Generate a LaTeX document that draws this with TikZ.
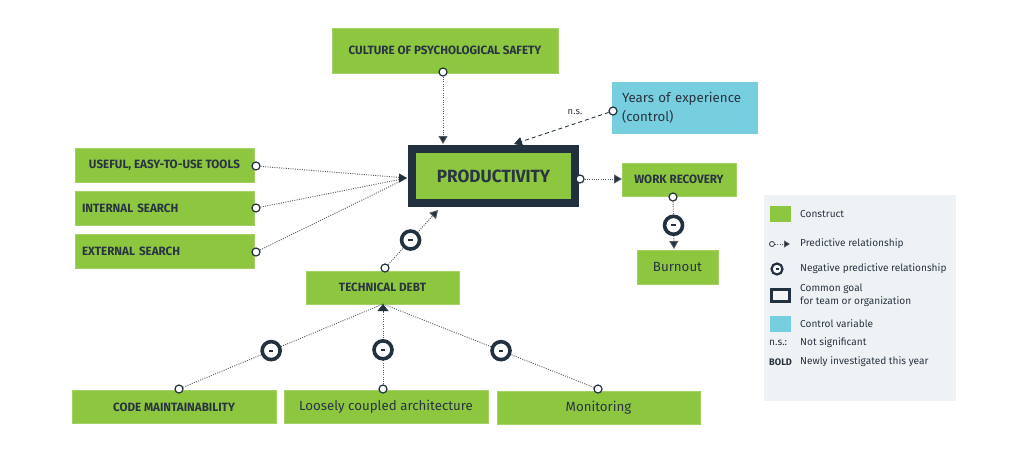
\documentclass[tikz,border=0pt]{standalone}
\usepackage{fontspec}
\setmainfont{Fira Sans}
\newfontfamily\condfont[FakeStretch=0.97]{Fira Sans}
\usetikzlibrary{arrows.meta}
\definecolor{cgreen}{HTML}{8DC63F}
\definecolor{cdark}{HTML}{22313F}
\definecolor{ccyan}{HTML}{76CEDE}
\definecolor{cpanel}{HTML}{EEF2F5}
\definecolor{ctext}{HTML}{2A3542}
\definecolor{cline}{HTML}{555A60}
\newcommand{\negbar}{\rule{4.5pt}{1.8pt}}
\tikzset{
  construct/.style={rectangle, fill=cgreen, draw=cgreen!80!white, line width=0.5pt, inner sep=0pt, text=ctext, align=center},
  capslabel/.style={font=\condfont\bfseries\fontsize{12}{14}\selectfont},
  plainlabel/.style={font=\fontsize{13.3}{19}\selectfont},
  opencirc/.style={circle, solid, draw=cdark, fill=white, line width=1.2pt, minimum size=8pt, inner sep=0pt},
  negcirc/.style={circle, solid, draw=cdark, fill=white, line width=3.6pt, minimum size=18pt, inner sep=0pt, text=cdark},
  dotline/.style={draw=cline, line width=0.9pt, dash pattern=on 1pt off 1.3pt},
  tip/.style={-{Triangle[length=8pt,width=9pt,fill=cdark]}},
  rel/.style={dotline, tip},
  legtext/.style={anchor=west, text=ctext, font=\fontsize{10.1}{12}\selectfont, inner sep=0pt, align=left},
}
\begin{document}
\begin{tikzpicture}[x=1pt,y=-1pt]
\useasboundingbox (0,0) rectangle (1016,475);
% boxes
\node[construct, capslabel, minimum width=226pt, minimum height=45pt] (culture) at (445,50.5) {CULTURE OF PSYCHOLOGICAL SAFETY};
\node[rectangle, fill=ccyan, inner sep=0pt, minimum width=146pt, minimum height=52pt, text width=126pt, align=left, text=ctext, plainlabel] (years) at (685,108) {Years of experience\\(control)};
\node[rectangle, fill=cgreen, draw=cdark, line width=8pt, minimum width=163pt, minimum height=54pt, inner sep=0pt, text=ctext, font=\condfont\bfseries\fontsize{17.7}{20}\selectfont] (prod) at (493.5,176) {PRODUCTIVITY};
\node[construct, capslabel, minimum width=179pt, minimum height=34pt] (tools) at (164.5,165) {USEFUL, EASY-TO-USE TOOLS};
\node[construct, capslabel, minimum width=179pt, minimum height=34pt, text width=165pt, align=left] (internal) at (164.5,208) {INTERNAL SEARCH};
\node[construct, capslabel, minimum width=179pt, minimum height=34pt, text width=165pt, align=left] (external) at (164.5,251.5) {EXTERNAL SEARCH};
\node[construct, capslabel, minimum width=114pt, minimum height=33pt] (work) at (679,179.5) {WORK RECOVERY};
\node[construct, plainlabel, minimum width=81pt, minimum height=34pt] (burnout) at (677.5,267) {Burnout};
\node[construct, capslabel, minimum width=153pt, minimum height=33pt] (debt) at (382.5,287.5) {TECHNICAL DEBT};
\node[construct, capslabel, minimum width=204pt, minimum height=33pt] (code) at (174,407) {CODE MAINTAINABILITY};
\node[construct, plainlabel, minimum width=204pt, minimum height=33pt] (loose) at (386,406.5) {Loosely coupled architecture};
\node[construct, plainlabel, minimum width=203pt, minimum height=33pt] (monitor) at (598.5,407.5) {Monitoring};
% arrow targets
\coordinate (pTop) at (443,144);
\coordinate (pTopR) at (514,144);
\coordinate (pLeft) at (407,178);
\coordinate (pLeftIn) at (400,178);
\coordinate (pRight) at (622,179);
\coordinate (pBot) at (438,210);
\coordinate (bTop) at (674,249);
\coordinate (dBot) at (383,304);
\coordinate (dBotIn) at (383,312);
% start circles
\node[opencirc] (cCul) at (443,72) {};
\node[opencirc] (cYrs) at (613,111) {};
\node[opencirc] (cTools) at (256,166) {};
\node[opencirc] (cInt) at (256,208) {};
\node[opencirc] (cExt) at (256,252) {};
\node[opencirc] (cProd) at (580,179) {};
\node[opencirc] (cWork) at (673,197) {};
\node[opencirc] (cDebt) at (385,268) {};
\node[opencirc] (cCode) at (179,389) {};
\node[opencirc] (cLoose) at (383,389) {};
\node[opencirc] (cMon) at (598,389) {};
% connectors
\draw[rel] (cCul) -- (pTop);
\draw[rel, dash pattern=on 4pt off 3pt, draw=cdark] (cYrs) -- (pTopR);
\node[text=ctext, font=\fontsize{9.5}{10}\selectfont, inner sep=0pt] (ns) at (575,112) {n.s.};
\draw[dotline] (cTools) -- (pLeft);
\draw[dotline] (cInt) -- (pLeft);
\draw[dotline] (cExt) -- (pLeft);
\draw[tip, draw=cdark, line width=0.9pt] (pLeftIn) -- (pLeft);
\draw[rel] (cProd) -- (pRight);
\draw[rel] (cWork) -- (bTop) node[negcirc, pos=0.5] (nWork) {\negbar};
\draw[rel] (cDebt) -- (pBot) node[negcirc, pos=0.45] (nDebt) {\negbar};
\draw[dotline] (cCode) -- (dBot) node[negcirc, pos=0.44] (nCode) {\negbar};
\draw[dotline] (cLoose) -- (dBot) node[negcirc, pos=0.43] (nLoose) {\negbar};
\draw[dotline] (cMon) -- (dBot) node[negcirc, pos=0.44] (nMon) {\negbar};
\draw[-{Triangle[length=7pt,width=11pt,fill=cdark]}, draw=cdark, line width=0.9pt] (dBotIn) -- (dBot);
% legend
\node[rectangle, fill=cpanel, inner sep=0pt, minimum width=192pt, minimum height=206pt] (panel) at (860,298) {};
\node[rectangle, fill=cgreen, inner sep=0pt, minimum width=21pt, minimum height=16pt] (lgGreen) at (780.5,214) {};
\node[legtext] (tConstruct) at (800,214) {Construct};
\node[circle, draw=cdark, fill=white, line width=0.8pt, minimum size=5pt, inner sep=0pt] (lgCirc) at (772,244) {};
\coordinate (lgArr) at (790,244);
\draw[draw=cline, line width=0.8pt, dash pattern=on 1pt off 1.3pt, -{Triangle[length=6pt,width=7pt,fill=cdark]}] (lgCirc) -- (lgArr);
\node[legtext] (tPred) at (800,244) {Predictive relationship};
\node[circle, draw=cdark, fill=white, line width=2.2pt, minimum size=11pt, inner sep=0pt, text=cdark] (lgNeg) at (777,269) {\rule{3pt}{1.2pt}};
\node[legtext] (tNeg) at (800,269) {Negative predictive relationship};
\node[rectangle, fill=cpanel!80!cdark!20, draw=cdark, line width=2.5pt, inner sep=0pt, minimum width=18pt, minimum height=12pt] (lgGoal) at (780.5,295.5) {};
\node[legtext, font=\fontsize{10.1}{12.5}\selectfont] (tGoal) at (800,295.5) {Common goal\\for team or organization};
\node[rectangle, fill=ccyan, inner sep=0pt, minimum width=21pt, minimum height=16pt] (lgCyan) at (780.5,323.5) {};
\node[legtext] (tCtrl) at (800,324) {Control variable};
\node[legtext] (lgNs) at (769,343) {n.s.:};
\node[legtext] (tNs) at (800,343) {Not significant};
\node[legtext, font=\condfont\bfseries\fontsize{9.5}{12}\selectfont] (lgBold) at (769,362) {BOLD};
\node[legtext] (tBold) at (800,362) {Newly investigated this year};
\end{tikzpicture}
\end{document}
